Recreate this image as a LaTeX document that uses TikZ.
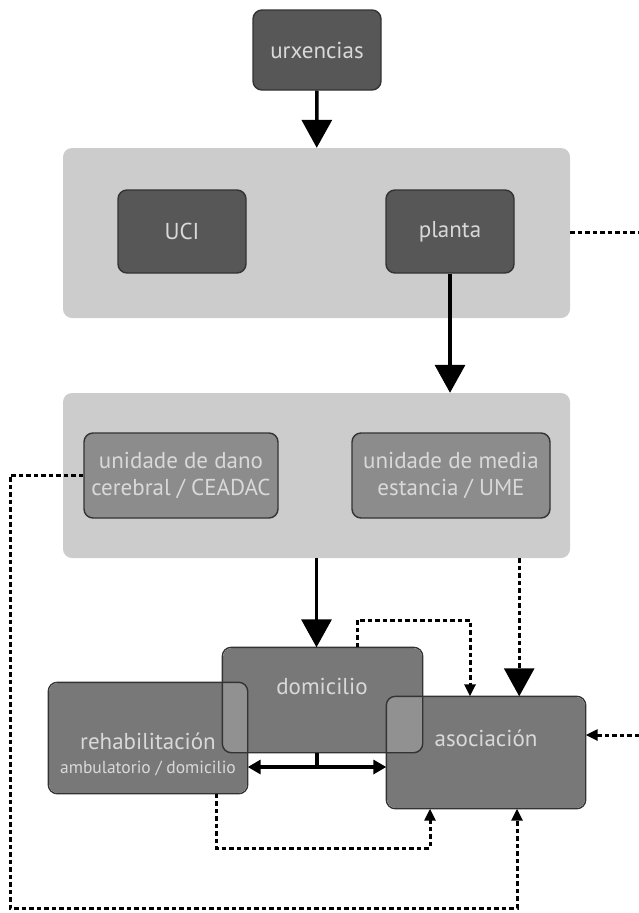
\documentclass[tikz,border=0pt]{standalone}
\usepackage{fontspec}
\setmainfont{PT Sans}
\usetikzlibrary{arrows.meta}

\begin{document}
\begin{tikzpicture}[x=1pt,y=-1pt, % flip y axis, units in px
    darkbox/.style={fill=black!66, draw=black!80, line width=1.4pt, rounded corners=9pt,
      text=white!85!black, font=\fontsize{23}{27}\selectfont, align=center, inner sep=0pt},
    midbox/.style={darkbox, fill=black!45},
    lowbox/.style={darkbox, fill=black!53, draw=none},
    panel/.style={fill=black!20, rounded corners=9pt, inner sep=0pt},
    bigarrow/.style={line width=3.5pt, -{Triangle[width=30pt,length=28pt]}},
    dotline/.style={line width=3pt, dash pattern=on 4.5pt off 3pt},
    smalltip/.style={-{Triangle[width=11pt,length=12pt]}},
    boxtext/.style={text=white!85!black, font=\fontsize{23}{27}\selectfont}]
  \useasboundingbox (0,0) rectangle (639,913);

  % nodes
  \node[darkbox, minimum width=128pt, minimum height=80pt] (urx) at (317,50) {urxencias};
  \node[panel, minimum width=507pt, minimum height=170pt] (top) at (316.5,233) {};
  \node[darkbox, minimum width=128pt, minimum height=83pt] (uci) at (182,231.5) {UCI};
  \node[darkbox, minimum width=128pt, minimum height=83pt] (planta) at (450,231.5) {planta};
  \node[panel, minimum width=507pt, minimum height=165pt] (mid) at (316.5,475.5) {};
  \node[midbox, minimum width=194pt, minimum height=85pt] (dano) at (181,475.5) {unidade de dano\\cerebral / CEADAC};
  \node[midbox, minimum width=198pt, minimum height=85pt] (media) at (451,475.5) {unidade de media\\estancia / UME};
  \node[lowbox, minimum width=199pt, minimum height=104pt] (dom) at (322.5,700) {};
  \node[lowbox, minimum width=198pt, minimum height=110pt] (rehab) at (148,738) {};
  \node[lowbox, minimum width=198pt, minimum height=111pt] (asoc) at (486,752.5) {};

  % lighter overlaps, then the outlines
  \foreach \a in {rehab,asoc}{
    \begin{scope}
      \clip[rounded corners=9pt] (\a.south west) rectangle (\a.north east);
      \fill[black!43, rounded corners=9pt] (dom.south west) rectangle (dom.north east);
    \end{scope}
  }
  \foreach \n in {dom,rehab,asoc}
    \draw[black!80, line width=1.4pt, rounded corners=9pt] (\n.south west) rectangle (\n.north east);
  \node[boxtext] (domtxt) at (322,686) {domicilio};
  \node[boxtext] (asoctxt) at (486,738) {asociación};
  \node[boxtext] (rehabtxt) at (148,741) {rehabilitación};
  \node[boxtext, font=\fontsize{17.5}{19}\selectfont] (rehabsub) at (148,768) {ambulatorio / domicilio};

  % free ends and bends
  \coordinate (eR) at (639,232);
  \coordinate (eA) at (639,735);
  \coordinate (cL) at (10,908);
  \coordinate (cB) at (430,848);
  \coordinate (cT) at (470,620);
  \coordinate (cM) at (317,767);

  % solid arrows
  \draw[bigarrow] (urx) -- (top);
  \draw[bigarrow] (planta.south) -- (planta.south |- mid.north);
  \draw[bigarrow] (mid.south) -- (mid.south |- dom.north);
  \draw[line width=3.5pt] (cM |- dom.south) -- (cM);
  \draw[line width=3.5pt, {Triangle[width=14pt,length=13pt]}-{Triangle[width=14pt,length=13pt]}]
    (cM -| rehab.east) -- (cM -| asoc.west);

  % dotted links
  \draw[dotline] (top.east |- eR) -- (eR);
  \draw[dotline, -{Triangle[width=30pt,length=28pt]}] ([xshift=-51pt]mid.south east) -- ([xshift=-51pt]mid.south east |- asoc.north);
  \draw[dotline, smalltip] (eA) -- (eA -| asoc.east);
  \draw[dotline, smalltip] (dano.west) -| (cL) -| ([xshift=31pt]asoc.south);
  \draw[dotline, smalltip] ([xshift=68pt]rehab.south) |- (cB) -- (cB |- asoc.south);
  \draw[dotline, smalltip] ([xshift=35pt]dom.north) |- (cT) -- (cT |- asoc.north);
\end{tikzpicture}
\end{document}
